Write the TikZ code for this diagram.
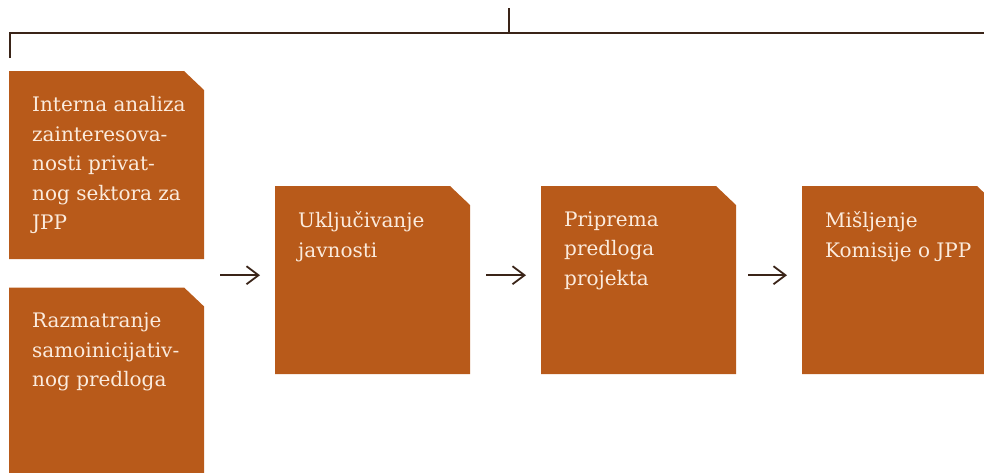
\documentclass[tikz,border=0pt]{standalone}
\usepackage{fontspec}
\setmainfont{DejaVu Serif}
\usetikzlibrary{positioning,arrows.meta}

\definecolor{rust}{HTML}{B85A1A}
\definecolor{cream}{HTML}{FBEBDD}
\definecolor{bark}{HTML}{3A2418}

\tikzstyle{stepbox} = [rectangle, draw = none, inner sep = 0pt, minimum width = 195pt, minimum height = 188pt,
    anchor = north west,
    path picture = {\fill[rust] (path picture bounding box.south west)
        |- ([xshift = -20pt]path picture bounding box.north east)
        -- ([yshift = -19pt]path picture bounding box.north east)
        -- (path picture bounding box.south east) -- cycle;}]
\tikzstyle{steptext} = [anchor = north west, inner sep = 0pt, align = left, text = cream,
    font = \fontsize{20}{29.5}\selectfont, execute at begin node = {\rule{0pt}{15.5pt}}]
\tikzstyle{flow} = [draw = bark, line width = 1.8pt, -{Straight Barb[length = 12pt, width = 18pt]},
    shorten < = 16pt, shorten > = 15pt]
\tikzstyle{bracket} = [draw = bark, line width = 2.3pt]

\begin{document}
\begin{tikzpicture}[x = 1pt, y = 1pt]
        \clip (0,0) rectangle (984,-472);
        \def\pad{23pt}
        \def\drop{-25.5pt}
        \def\lift{5pt}

        \coordinate (brL) at (10,-58);
        \coordinate (brT) at (509,-8);
        \coordinate (brR) at (992,-33);
        \path[bracket] (brL) |- (brR);
        \path[bracket] (brT) -- (brT |- brR);

        \node[stepbox] at (9,-71) (A) {};
        \node[stepbox, below = 28pt of A, minimum height = 190pt] (B) {};
        \node[stepbox] at (275,-186) (C) {};
        \node[stepbox] at (541,-186) (D) {};
        \node[stepbox] at (802,-186) (E) {};

        \node[steptext] at ([shift = {(\pad,\drop)}]A.north west) (tA)
            {Interna analiza\\zainteresova-\\nosti privat-\\nog sektora za\\JPP};
        \node[steptext] at ([shift = {(\pad,\drop)}]B.north west) (tB)
            {Razmatranje\\samoinicijativ-\\nog predloga};
        \node[steptext] at ([shift = {(\pad,\drop)}]C.north west) (tC)
            {Uključivanje\\javnosti};
        \node[steptext] at ([shift = {(\pad,\drop)}]D.north west) (tD)
            {Priprema\\predloga\\projekta};
        \node[steptext] at ([shift = {(\pad,\drop)}]E.north west) (tE)
            {Mišljenje\\Komisije o JPP};

        \path[flow] (A.east |- C.west) ++(0,\lift) coordinate (fA) -- ([yshift = \lift]C.west);
        \path[flow] ([yshift = \lift]C.east) -- ([yshift = \lift]D.west);
        \path[flow, shorten < = 12pt] ([yshift = \lift]D.east) -- ([yshift = \lift]E.west);
    \end{tikzpicture}
\end{document}
